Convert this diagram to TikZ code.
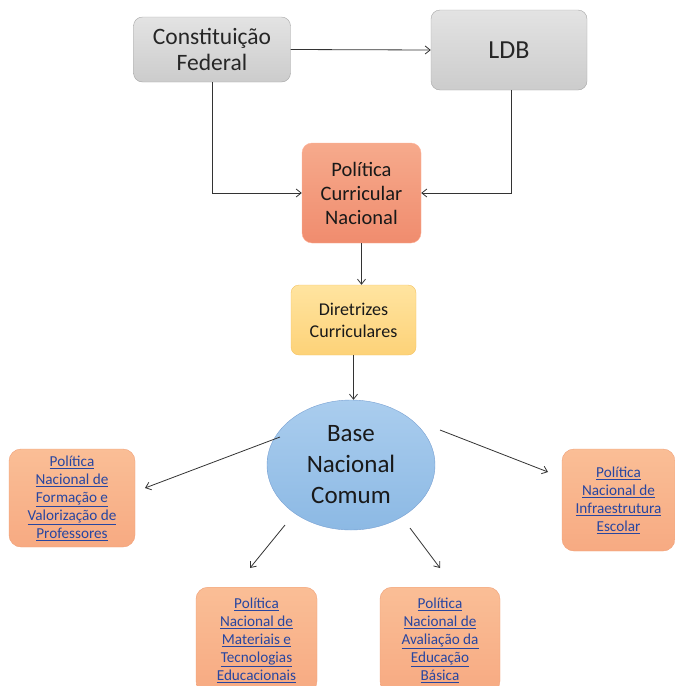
\documentclass[tikz,border=0pt]{standalone}
\usepackage{fontspec}
\setmainfont{Carlito}
\usetikzlibrary{arrows.meta,shapes.geometric}
\begin{document}
\begin{tikzpicture}[x=1pt,y=-1pt,
  graybox/.style={draw=gray!70,rounded corners=9pt,top color=gray!22,bottom color=gray!40,align=center,font=\fontsize{23.5}{26}\selectfont,text=black!85,inner sep=0pt},
  pcnbox/.style={draw=orange!50!red!40,rounded corners=10pt,top color={rgb,255:red,246;green,170;blue,140},bottom color={rgb,255:red,240;green,140;blue,110},align=center,font=\fontsize{20.5}{24}\selectfont,text=black!90,inner sep=0pt},
  dcbox/.style={draw={rgb,255:red,245;green,195;blue,100},rounded corners=8pt,top color={rgb,255:red,255;green,228;blue,160},bottom color={rgb,255:red,253;green,210;blue,120},align=center,font=\fontsize{18}{22}\selectfont,text=black!90,inner sep=0pt},
  polbox/.style={draw={rgb,255:red,240;green,160;blue,120},rounded corners=12pt,top color={rgb,255:red,250;green,190;blue,150},bottom color={rgb,255:red,247;green,170;blue,130},align=center,font=\fontsize{15.2}{18}\selectfont,text={rgb,255:red,40;green,70;blue,160},inner sep=0pt},
  arr/.style={-{Straight Barb[length=5pt,width=8pt]},draw=black!80,line width=0.8pt}
]
\useasboundingbox (0,0) rectangle (675,686);
\newcommand{\ul}[1]{\underline{#1}}
\node[graybox,minimum width=157pt,minimum height=65pt] (cf) at (212,49.5) {Constituição\\Federal};
\node[graybox,minimum width=156pt,minimum height=80pt,font=\fontsize{26}{28}\selectfont] (ldb) at (509,50) {LDB};
\node[pcnbox,minimum width=119pt,minimum height=100pt] (pcn) at (361.5,193) {Política\\Curricular\\Nacional};
\node[dcbox,minimum width=125pt,minimum height=70pt] (dc) at (353.5,320) {Diretrizes\\Curriculares};
\node[ellipse,draw={rgb,255:red,120;green,160;blue,210},top color={rgb,255:red,170;green,205;blue,238},bottom color={rgb,255:red,140;green,185;blue,228},minimum width=168pt,minimum height=130pt,inner sep=0pt,align=center,font=\fontsize{25}{31}\selectfont,text=black!90] (base) at (351,465) {Base\\Nacional\\Comum};
\node[polbox,minimum width=126pt,minimum height=98pt] (p1) at (72,498) {\ul{Política}\\\ul{Nacional de}\\\ul{Formação e}\\\ul{Valorização de}\\\ul{Professores}};
\node[polbox,minimum width=113pt,minimum height=102pt] (p2) at (618.5,500) {\ul{Política}\\\ul{Nacional de}\\\ul{Infraestrutura}\\\ul{Escolar}};
\node[polbox,minimum width=121pt,minimum height=106pt,anchor=north] (p3) at (256.5,587) {\ul{Política}\\\ul{Nacional de}\\\ul{Materiais e}\\\ul{Tecnologias}\\\ul{Educacionais}};
\node[polbox,minimum width=120pt,minimum height=106pt,anchor=north] (p4) at (440,587) {\ul{Política}\\\ul{Nacional de}\\\ul{Avaliação da}\\\ul{Educação}\\\ul{Básica}};
\draw[arr] (cf.east) -- (ldb.west);
\draw[arr] (cf.south) |- (pcn.west);
\draw[arr] (ldb.south -| 511,0) |- (pcn.east);
\draw[arr] (pcn.south) -- (dc.north -| pcn.south);
\draw[arr] (dc.south) -- (base.north -| dc.south);
\coordinate (a1) at (280,437);
\coordinate (b1) at (145,488);
\draw[arr] (a1) -- (b1);
\coordinate (a2) at (440,430);
\coordinate (b2) at (548,472);
\draw[arr] (a2) -- (b2);
\coordinate (a3) at (285,525);
\coordinate (b3) at (250,568);
\draw[arr] (a3) -- (b3);
\coordinate (a4) at (410,528);
\coordinate (b4) at (440,568);
\draw[arr] (a4) -- (b4);
\end{tikzpicture}
\end{document}
